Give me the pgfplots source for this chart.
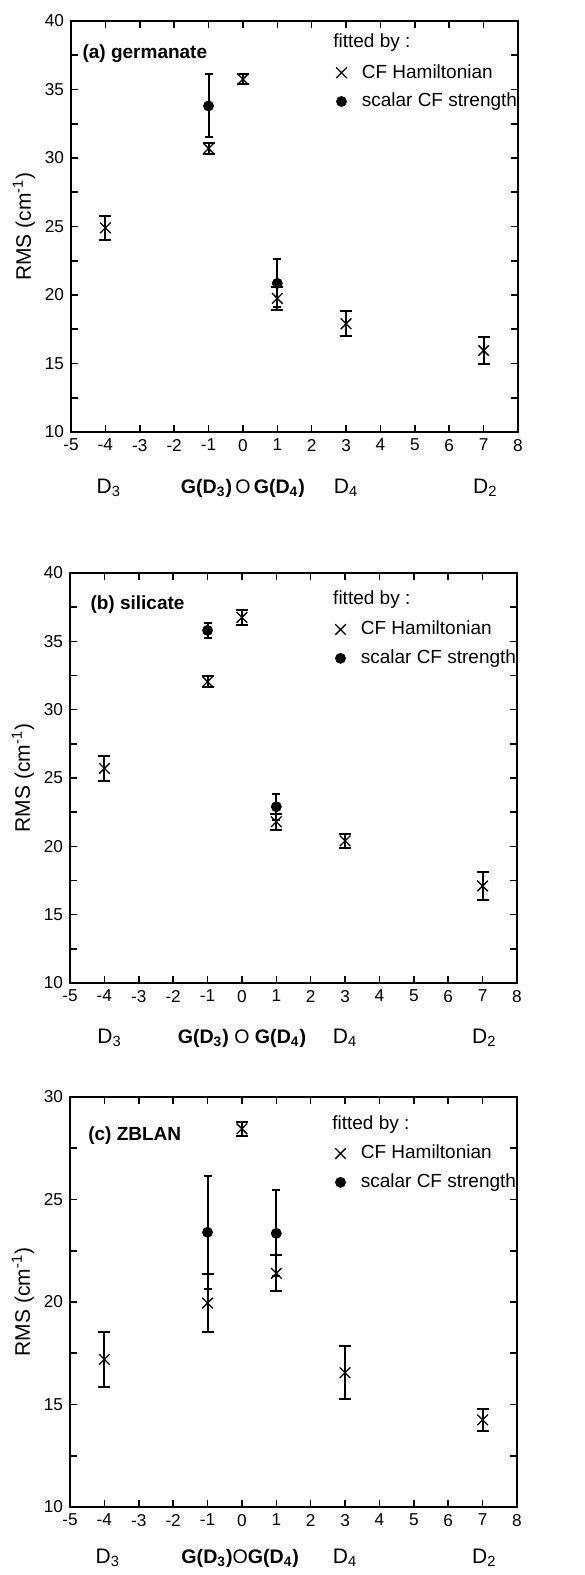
\documentclass[border=0pt]{standalone}
\usepackage{fontspec}
\setmainfont{Liberation Sans}
\usepackage{pgfplots}
\pgfplotsset{compat=1.18}

\pgfplotsset{
  rmspanel/.style={
    scale only axis, width=223.5pt,
    xmin=-5, xmax=8, xtick={-5,...,8},
    ytick distance=5, minor y tick num=1,
    tick align=inside, major tick length=3.5pt, minor tick length=3.5pt,
    axis line style={line width=1pt},
    every tick/.style={line width=0.8pt, black},
    tick label style={font=\fontsize{8.6}{10}\selectfont},
    /pgf/number format/assume math mode=true,
    ylabel={RMS (cm\textsuperscript{-1})},
    ylabel style={at={(axis description cs:-0.105,0.5)}, anchor=center, font=\fontsize{10.5}{12}\selectfont},
    clip=false,
    legend style={draw=none, fill=none, anchor=north west,
      font=\fontsize{9.5}{11}\selectfont, row sep=2pt,
      /tikz/every odd column/.append style={column sep=5.5pt}},
    legend cell align=left,
  },
  ham/.style={only marks, mark=x, mark size=3.75pt, black, line width=0.65pt,
    error bars/.cd, y dir=both, y explicit,
    error bar style={line width=1pt},
    error mark options={rotate=90, mark size=3pt, line width=1pt}},
  scal/.style={only marks, mark=*, mark size=2.5pt, black,
    error bars/.cd, y dir=both, y explicit,
    error bar style={line width=1pt},
    error mark options={rotate=90, mark size=2pt, line width=1pt}},
}
\newcommand{\lbl}{\fontsize{10.5}{12}\selectfont}
\newcommand{\grp}{\fontsize{9.8}{12}\selectfont}
\newcommand{\txt}{\fontsize{9.5}{11}\selectfont}

\begin{document}
\begin{tikzpicture}
\path[use as bounding box] (0,0) rectangle (292pt,-787.5pt);

% (a) germanate
\begin{axis}[rmspanel, height=205.5pt, ymin=10, ymax=40,
  at={(35.5pt,-216pt)}, anchor=south west,
  legend style={at={(axis description cs:0.579,0.915)}}]
\addplot[ham] coordinates {
  (-4,24.9) +- (0,0.85)
  (-1,30.7) +- (0,0.4)
  (0,35.75) +- (0,0.35)
  (1,19.75) +- (0,0.85)
  (3,17.9) +- (0,0.9)
  (7,15.95) +- (0,1.0)
};
\addlegendentry{CF Hamiltonian}
\addplot[scal] coordinates {
  (-1,33.8) +- (0,2.3)
  (1,20.85) +- (0,1.75)
};
\addlegendentry{scalar CF strength}
\node[anchor=base west, inner sep=0pt, font=\txt\bfseries] at (axis description cs:0.025,0.908) {(a) germanate};
\node[anchor=base west, inner sep=0pt, font=\txt] at (axis description cs:0.586,0.935) {fitted by :};
\node[anchor=base, font=\lbl] at (axis cs:-3.9,10) [yshift=-30.5pt] {D\textsubscript{3}};
\node[anchor=base, font=\grp] at (axis cs:0,10) [yshift=-30.5pt] {\textbf{G(D\textsubscript{3})}\,O\,\textbf{G(D\textsubscript{4})}};
\node[anchor=base, font=\lbl] at (axis cs:3,10) [yshift=-30.5pt] {D\textsubscript{4}};
\node[anchor=base, font=\lbl] at (axis cs:7.05,10) [yshift=-30.5pt] {D\textsubscript{2}};
\end{axis}

% (b) silicate
\begin{axis}[rmspanel, height=205pt, ymin=10, ymax=40,
  at={(35pt,-491.5pt)}, anchor=south west,
  legend style={at={(axis description cs:0.579,0.903)}}]
\addplot[ham] coordinates {
  (-4,25.7) +- (0,0.9)
  (-1,32.05) +- (0,0.42)
  (0,36.75) +- (0,0.55)
  (1,21.8) +- (0,0.6)
  (3,20.4) +- (0,0.5)
  (7,17.1) +- (0,1.05)
};
\addlegendentry{CF Hamiltonian}
\addplot[scal] coordinates {
  (-1,35.8) +- (0,0.57)
  (1,22.9) +- (0,0.95)
};
\addlegendentry{scalar CF strength}
\node[anchor=base west, inner sep=0pt, font=\txt\bfseries] at (axis description cs:0.045,0.91) {(b) silicate};
\node[anchor=base west, inner sep=0pt, font=\txt] at (axis description cs:0.588,0.922) {fitted by :};
\node[anchor=base, font=\lbl] at (axis cs:-3.85,10) [yshift=-30pt] {D\textsubscript{3}};
\node[anchor=base, font=\grp] at (axis cs:0,10) [yshift=-30pt] {\textbf{G(D\textsubscript{3})} O \textbf{G(D\textsubscript{4})}};
\node[anchor=base, font=\lbl] at (axis cs:3,10) [yshift=-30pt] {D\textsubscript{4}};
\node[anchor=base, font=\lbl] at (axis cs:7.05,10) [yshift=-30pt] {D\textsubscript{2}};
\end{axis}

% (c) ZBLAN
\begin{axis}[rmspanel, height=205pt, ymin=10, ymax=30,
  at={(35pt,-753.5pt)}, anchor=south west,
  legend style={at={(axis description cs:0.579,0.903)}}]
\addplot[ham] coordinates {
  (-4,17.2) +- (0,1.35)
  (-1,19.95) +- (0,1.4)
  (0,28.45) +- (0,0.35)
  (1,21.4) +- (0,0.88)
  (3,16.55) +- (0,1.3)
  (7,14.25) +- (0,0.52)
};
\addlegendentry{CF Hamiltonian}
\addplot[scal] coordinates {
  (-1,23.4) +- (0,2.75)
  (1,23.35) +- (0,2.1)
};
\addlegendentry{scalar CF strength}
\node[anchor=base west, inner sep=0pt, font=\txt\bfseries] at (axis description cs:0.04,0.895) {(c) ZBLAN};
\node[anchor=base west, inner sep=0pt, font=\txt] at (axis description cs:0.586,0.92) {fitted by :};
\node[anchor=base, font=\lbl] at (axis cs:-3.9,10) [yshift=-28pt] {D\textsubscript{3}};
\node[anchor=base, font=\grp] at (axis cs:-0.05,10) [yshift=-28pt] {\textbf{G(D\textsubscript{3})}O\textbf{G(D\textsubscript{4})}};
\node[anchor=base, font=\lbl] at (axis cs:3,10) [yshift=-28pt] {D\textsubscript{4}};
\node[anchor=base, font=\lbl] at (axis cs:7.05,10) [yshift=-28pt] {D\textsubscript{2}};
\end{axis}
\end{tikzpicture}
\end{document}
